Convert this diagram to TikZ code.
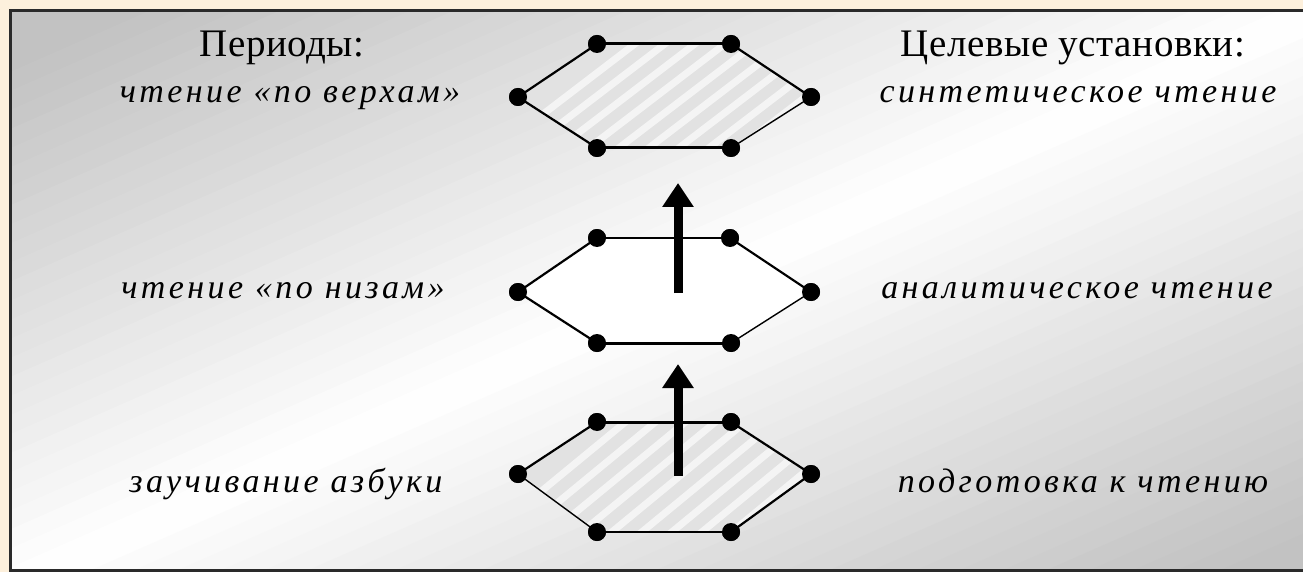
\documentclass[tikz,border=0pt]{standalone}
\usepackage{fontspec}
\setmainfont{Liberation Serif}
\newfontfamily\spacedserif[LetterSpace=10]{Liberation Serif}
\newfontfamily\headserif[LetterSpace=1.5]{Liberation Serif}
\usetikzlibrary{arrows.meta}
\definecolor{peach}{HTML}{FDF0DC}
\definecolor{bggrey}{HTML}{C2C2C2}
\definecolor{hexfill}{HTML}{E2E2E2}
\definecolor{framec}{HTML}{2A2A2A}
\begin{document}
\begin{tikzpicture}[x=1pt,y=-1pt,
  vtx/.style={circle, fill=black, inner sep=0pt, minimum size=18pt},
  thickedge/.style={line width=3pt, shorten <=-2pt, shorten >=-2pt},
  midedge/.style={line width=2.2pt, shorten <=-2pt, shorten >=-2pt},
  thinedge/.style={line width=1.4pt, shorten <=-2pt, shorten >=-2pt},
  uparrow/.style={line width=9pt, -{Triangle[length=24pt,width=30pt]}},
  heading/.style={font=\fontsize{39}{44}\headserif, inner sep=0pt, anchor=base},
  itlabel/.style={font=\fontsize{34}{40}\spacedserif\itshape, inner sep=0pt, anchor=base},
  streak/.style={white, line width=7pt, opacity=0.65, line cap=round}
]
\useasboundingbox (0,0) rectangle (1303,572);
\fill[peach] (0,0) rectangle (1303,572);
\begin{scope}
\clip (10,11) rectangle (1303,570);
\foreach \i in {0,...,59}{
  \pgfmathsetmacro{\ca}{\i/30}
  \pgfmathsetmacro{\cb}{(\i+1.2)/30}
  \pgfmathsetmacro{\pc}{min(100,110*abs((\i+0.5)/30-1.03))}
  \fill[bggrey!\pc!white] ({(\ca+1)*1303},-572) -- ({(\cb+1)*1303},-572) -- ({(\cb-2)*1303},1144) -- ({(\ca-2)*1303},1144) -- cycle;
}
\end{scope}
\begin{scope}
\clip (0,0) rectangle (1303,572);
\draw[framec, line width=3pt] (10,11) rectangle (1320,570);
\end{scope}

% ---------- top hexagon ----------
\node[vtx] (T-L)  at (518,97) {};
\node[vtx] (T-TL) at (597,44) {};
\node[vtx] (T-TR) at (731,44) {};
\node[vtx] (T-R)  at (811,97) {};
\node[vtx] (T-BR) at (731,148) {};
\node[vtx] (T-BL) at (597,148) {};
\begin{scope}
\clip (T-L.center) -- (T-TL.center) -- (T-TR.center) -- (T-R.center) -- (T-BR.center) -- (T-BL.center) -- cycle;
\fill[hexfill] (500,30) rectangle (830,160);
\foreach \s in {0,30,60,90,120,150,180,210,240,270,300}
  \draw[streak] (470+\s,170) -- (640+\s,40);
\end{scope}

% ---------- middle hexagon ----------
\node[vtx] (M-L)  at (518,292) {};
\node[vtx] (M-TL) at (597,238) {};
\node[vtx] (M-TR) at (730,238) {};
\node[vtx] (M-R)  at (811,292) {};
\node[vtx] (M-BR) at (731,343) {};
\node[vtx] (M-BL) at (597,343) {};
\fill[white] (M-L.center) -- (M-TL.center) -- (M-TR.center) -- (M-R.center) -- (M-BR.center) -- (M-BL.center) -- cycle;

% ---------- bottom hexagon ----------
\node[vtx] (B-L)  at (518,474) {};
\node[vtx] (B-TL) at (597,422) {};
\node[vtx] (B-TR) at (731,422) {};
\node[vtx] (B-R)  at (811,474) {};
\node[vtx] (B-BR) at (731,532) {};
\node[vtx] (B-BL) at (597,532) {};
\begin{scope}
\clip (B-L.center) -- (B-TL.center) -- (B-TR.center) -- (B-R.center) -- (B-BR.center) -- (B-BL.center) -- cycle;
\fill[hexfill] (500,410) rectangle (830,545);
\foreach \s in {0,30,60,90,120,150,180,210,240,270,300}
  \draw[streak] (470+\s,550) -- (640+\s,410);
\end{scope}

% edges: top
\draw[thickedge] (T-TL) -- (T-TR);
\draw[midedge]   (T-TR) -- (T-R);
\draw[thinedge]  (T-R)  -- (T-BR);
\draw[thickedge] (T-BR) -- (T-BL);
\draw[midedge]   (T-BL) -- (T-L);
\draw[midedge]   (T-L)  -- (T-TL);
% edges: middle
\draw[thinedge]  (M-TL) -- (M-TR);
\draw[midedge]   (M-TR) -- (M-R);
\draw[thinedge]  (M-R)  -- (M-BR);
\draw[thickedge] (M-BR) -- (M-BL);
\draw[midedge]   (M-BL) -- (M-L);
\draw[midedge]   (M-L)  -- (M-TL);
% edges: bottom
\draw[thickedge] (B-TL) -- (B-TR);
\draw[midedge]   (B-TR) -- (B-R);
\draw[midedge]   (B-R)  -- (B-BR);
\draw[thinedge]  (B-BR) -- (B-BL);
\draw[thinedge]  (B-BL) -- (B-L);
\draw[midedge]   (B-L)  -- (B-TL);

% redraw vertices on top of edges
\foreach \h in {T,M,B}
  \foreach \v in {L,TL,TR,R,BR,BL}
    \fill (\h-\v) circle (9pt);

% arrows
\coordinate (a1s) at (678,293);
\coordinate (a1e) at (678,183);
\coordinate (a2s) at (678,476);
\coordinate (a2e) at (678,364);
\draw[uparrow] (a1s) -- (a1e);
\draw[uparrow] (a2s) -- (a2e);

% texts
\node[heading] (hL) at (282,57) {Периоды:};
\node[heading] (hR) at (1073,57) {Целевые установки:};
\node[itlabel] (l1) at (290,103) {чтение «по верхам»};
\node[itlabel] (r1) at (1078,103) {синтетическое чтение};
\node[itlabel] (l2) at (283,298) {чтение «по низам»};
\node[itlabel] (r2) at (1077,298) {аналитическое чтение};
\node[itlabel] (l3) at (286,492) {заучивание азбуки};
\node[itlabel] (r3) at (1083,492) {подготовка к чтению};
\end{tikzpicture}
\end{document}
